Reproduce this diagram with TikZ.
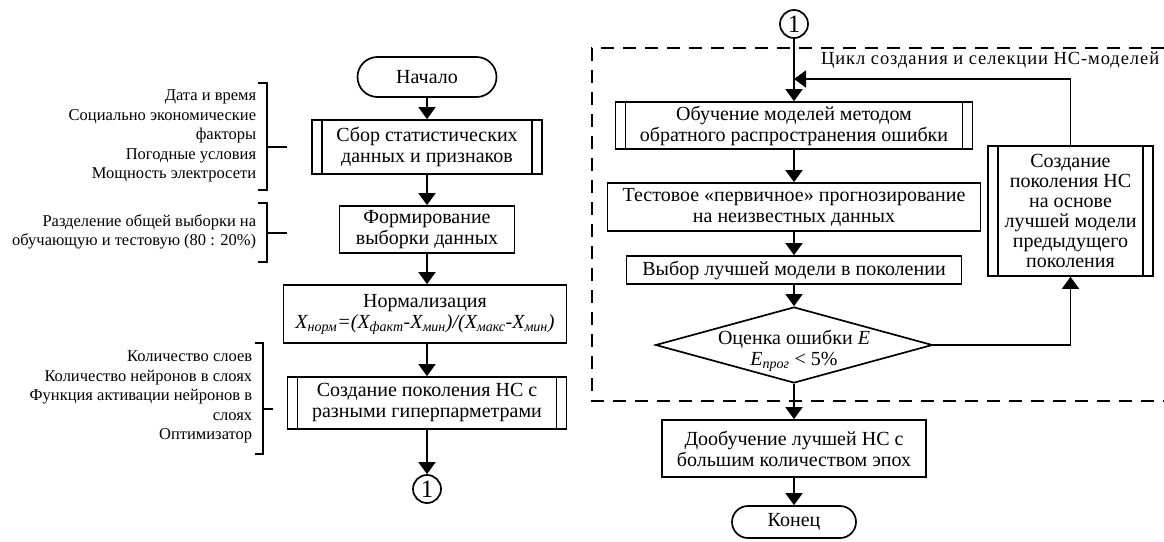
\documentclass[tikz,border=0pt]{standalone}
\usepackage{fontspec}
\setmainfont{Liberation Serif}
\newfontfamily\spacedfont[LetterSpace=5]{Liberation Serif}
\usetikzlibrary{arrows.meta,shapes.geometric,shapes.misc}
\tikzset{
  every picture/.style={x=1pt, y=-1pt, >={Triangle[length=12pt,width=17pt]}, line width=1.7pt},
  blk/.style={draw, rectangle, align=center, inner sep=0pt, font=\fontsize{20}{21}\selectfont},
  subproc/.style={blk, path picture={
      \draw ([xshift=10pt]path picture bounding box.north west) -- ([xshift=10pt]path picture bounding box.south west);
      \draw ([xshift=-10pt]path picture bounding box.north east) -- ([xshift=-10pt]path picture bounding box.south east);}},
  term/.style={blk, rounded rectangle},
  dec/.style={blk, diamond, aspect=3.6, inner xsep=-8pt, inner ysep=-4pt},
  conn/.style={draw, circle, inner sep=0pt, minimum size=28pt, font=\fontsize{25}{25}\selectfont},
  note/.style={align=right, inner sep=0pt, font=\fontsize{16.5}{19.5}\selectfont},
  loopline/.style={dash pattern=on 13pt off 9pt},
}
\def\xl{427}
\def\xr{794}

\begin{document}
\begin{tikzpicture}
  \useasboundingbox (0,0) rectangle (1164,541);
  % left column
  \node[term, minimum width=139pt, minimum height=40pt] (start) at (\xl,77) {Начало};
  \node[subproc, minimum width=230pt, minimum height=54pt] (sbor) at (\xl,147) {Сбор статистических\\данных и признаков};
  \node[blk, minimum width=175pt, minimum height=47pt] (form) at (\xl,229.5) {Формирование\\выборки данных};
  \node[blk, minimum width=283pt, minimum height=58pt] (norm) at (425,314) {Нормализация\\\itshape X\textsubscript{норм}=(X\textsubscript{факт}-X\textsubscript{мин})/(X\textsubscript{макс}-X\textsubscript{мин})};
  \node[subproc, minimum width=279pt, minimum height=52pt] (sozd) at (\xl,403) {Создание поколения НС с\\разными гиперпарметрами};
  \node[conn] (c1) at (\xl,489) {1};
  \draw[->] (start) -- (sbor);
  \draw[->] (sbor) -- (form);
  \draw[->] (form) -- (form |- norm.north);
  \draw[->] (form |- norm.south) -- (sozd);
  \draw[->] (sozd) -- (c1);
  % notes
  \node[note, anchor=east] (n1) at (257,136) {Дата и время\\Социально экономические\\факторы\\Погодные условия\\Мощность электросети};
  \node[note, anchor=east] (n2) at (257,232) {Разделение общей выборки на\\обучающую и тестовую (80 : 20\%)};
  \node[note, anchor=east] (n3) at (253,397) {Количество слоев\\Количество нейронов в слоях\\Функция активации нейронов в\\слоях\\Оптимизатор};
  \draw (258,83) -- (267,83) -- (267,190) -- (258,190);
  \draw (267,147) -- (287,147);
  \draw (258,203) -- (267,203) -- (267,262) -- (258,262);
  \draw (267,233) -- (287,233);
  \draw (255,343) -- (263,343) -- (263,454) -- (255,454);
  \draw (263,409) -- (273,409);
  % cycle frame
  \draw[loopline] (1164,48) -- (592,48) -- (592,401) -- (1164,401);
  \node[note, anchor=east, font=\fontsize{18.5}{19}\spacedfont] (cyc) at (1160,60) {Цикл создания и селекции НС-моделей};
  % right column
  \node[conn] (c2) at (\xr,24) {1};
  \node[subproc, minimum width=357pt, minimum height=47pt] (obuch) at (\xr,125.5) {Обучение моделей методом\\обратного распространения ошибки};
  \node[blk, minimum width=373pt, minimum height=48pt] (test) at (\xr,207) {Тестовое «первичное» прогнозирование\\на неизвестных данных};
  \node[blk, minimum width=335pt, minimum height=28pt] (vybor) at (\xr,270) {Выбор лучшей модели в поколении};
  \node[dec, minimum width=277pt, minimum height=76pt] (ocen) at (\xr,345) {\raisebox{-6pt}[\height][\depth]{\begin{tabular}{@{}c@{}}Оценка ошибки \textit{E}\\\textit{E\textsubscript{прог}} < 5\%\end{tabular}}};
  \node[blk, minimum width=264pt, minimum height=57pt] (doob) at (\xr,448.5) {Дообучение лучшей НС с\\большим количеством эпох};
  \node[term, minimum width=124pt, minimum height=32pt] (konec) at (\xr,522) {Конец};
  \node[subproc, minimum width=165pt, minimum height=130pt, font=\fontsize{20}{20}\selectfont] (gen) at (1070.5,211) {Создание\\поколения НС\\на основе\\лучшей модели\\предыдущего\\поколения};
  \coordinate (fb) at (\xr,79);
  \draw[->] (c2) -- (obuch);
  \draw[->] (obuch) -- (test);
  \draw[->] (test) -- (vybor);
  \draw[->] (vybor) -- (ocen);
  \draw[->] (ocen) -- (doob);
  \draw[->] (doob) -- (konec);
  \draw[->] (ocen.east) -| (gen.south);
  \draw[->] (gen.north) |- (fb);
\end{tikzpicture}
\end{document}
